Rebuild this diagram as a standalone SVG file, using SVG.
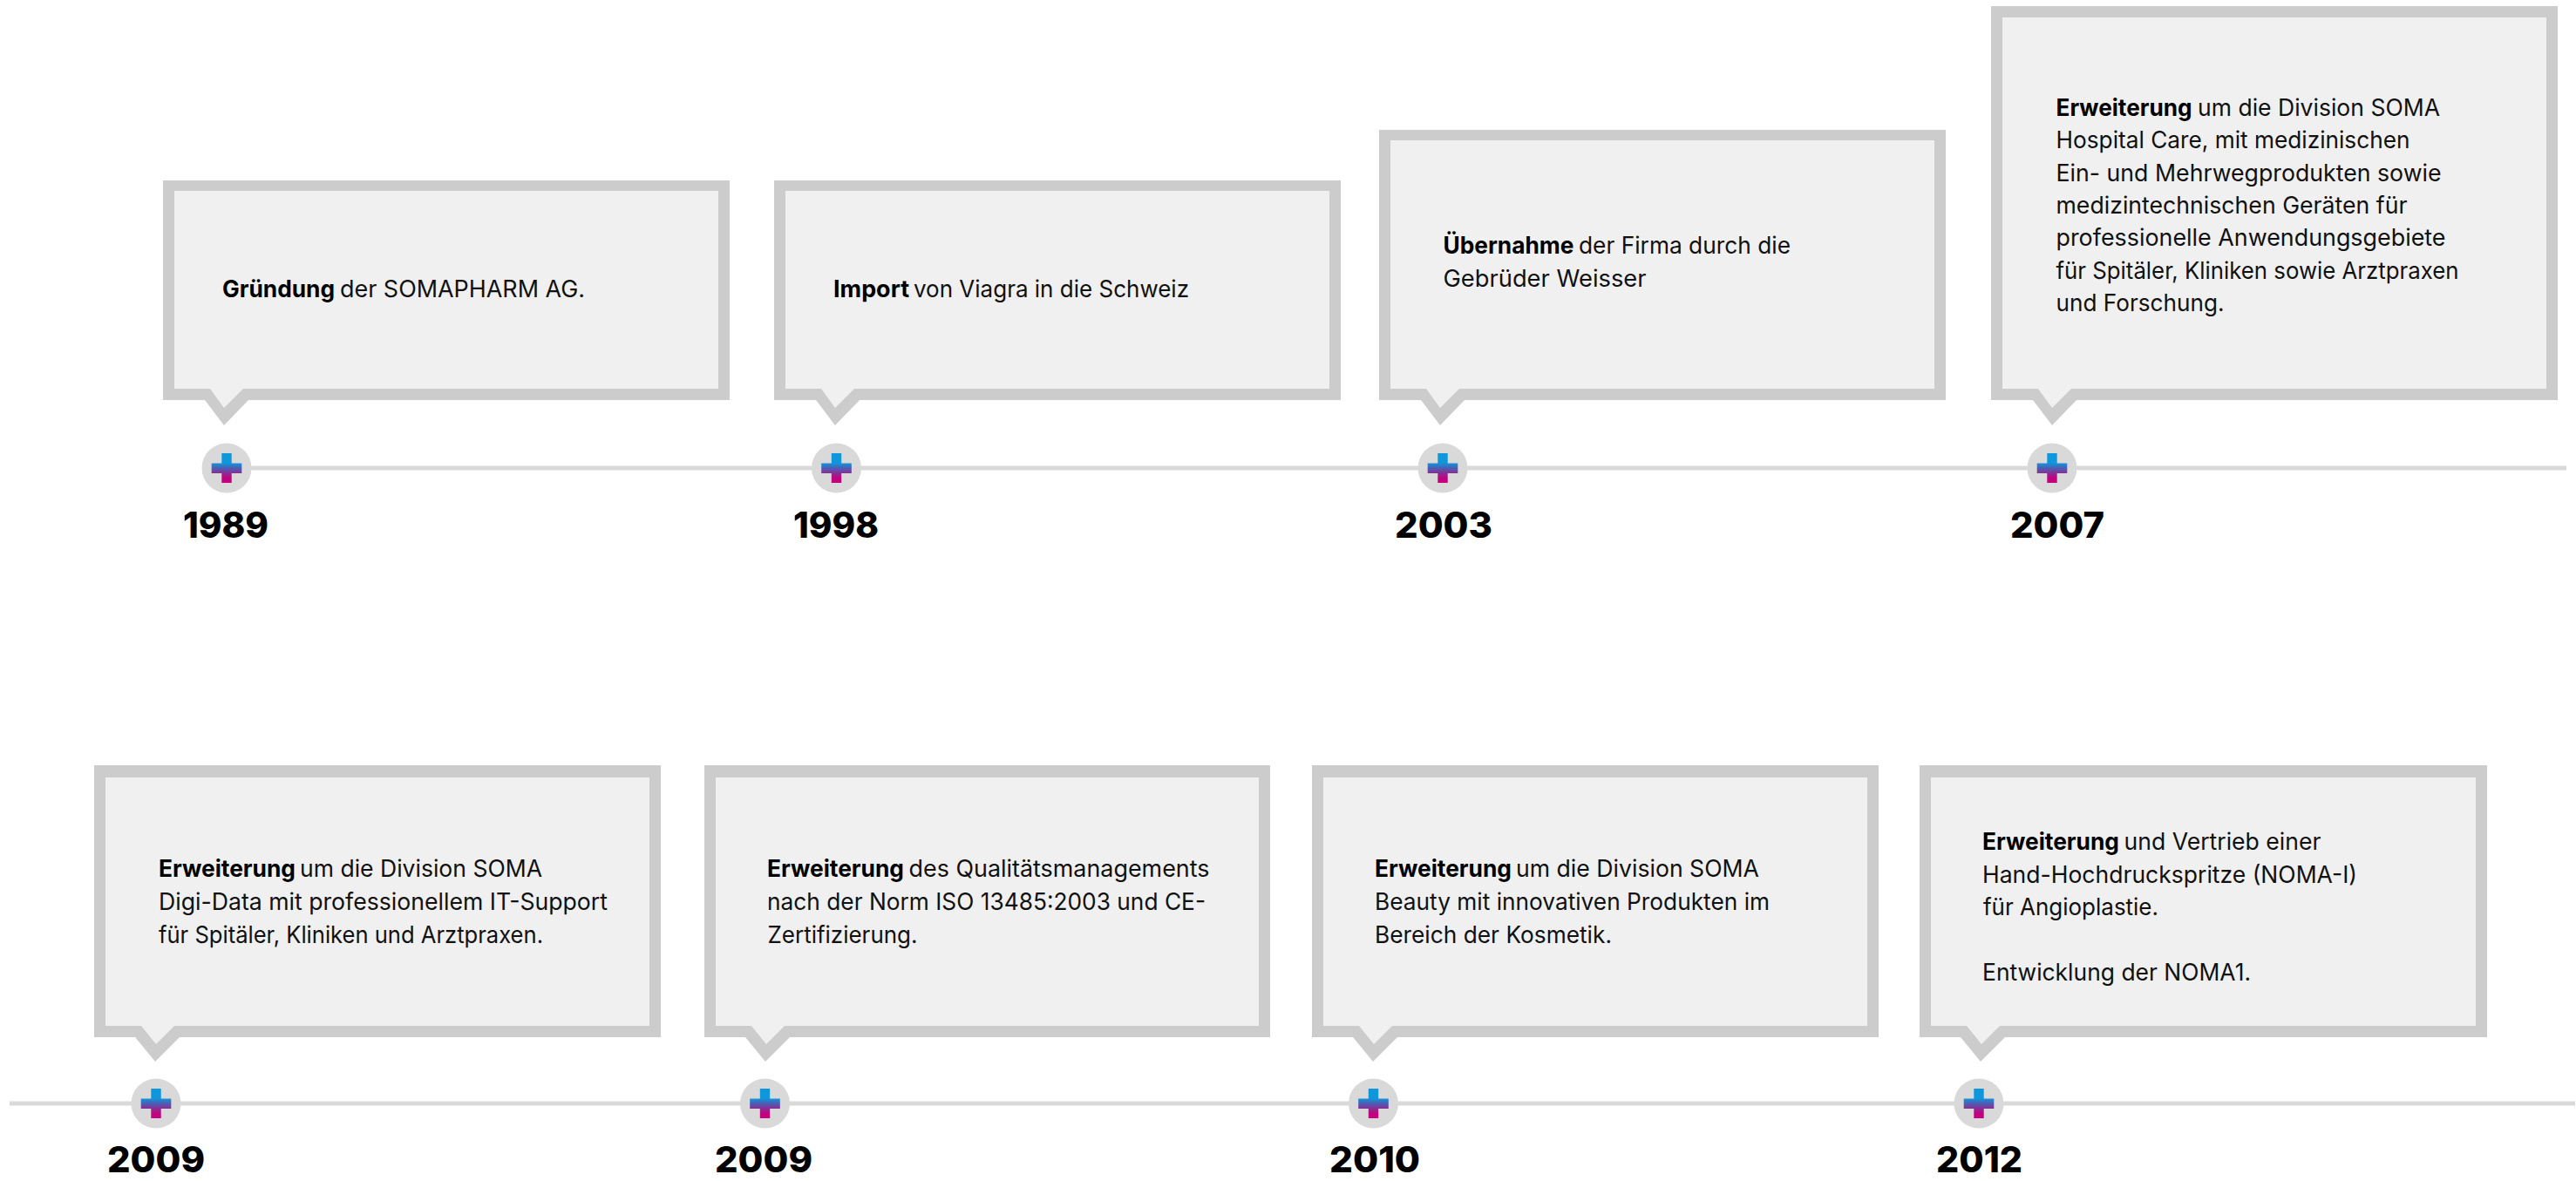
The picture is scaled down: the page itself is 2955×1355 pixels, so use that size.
<svg xmlns="http://www.w3.org/2000/svg" width="2955" height="1355" viewBox="0 0 2955 1355">
<style>
.o{fill:#ccc}.i{fill:#f0f0f0}
.t{font-family:Inter,"Liberation Sans",sans-serif;font-size:27px;fill:#111;transform:translateX(1px)}
.t tspan.b{font-weight:700;fill:#000}
.y{font-family:Inter,"Liberation Sans",sans-serif;font-size:41px;font-weight:800;fill:#000}
.l{stroke:#d9d9d9;stroke-width:5;fill:none}
</style>
<defs>
<linearGradient id="g" x1="0" y1="0" x2="0" y2="1"><stop offset="0.33" stop-color="#0f97dc"/><stop offset="0.5" stop-color="#4a5fb5"/><stop offset="0.68" stop-color="#8c2b92"/><stop offset="0.85" stop-color="#c4007f"/></linearGradient>
<g id="m"><circle r="28.5" fill="#d9d9d9"/><path d="M-5.7,-17H5.7V-5.5H17.3V6H5.7V17H-5.7V6H-17.3V-5.5H-5.7Z" fill="url(#g)"/></g>
</defs>
<rect width="2955" height="1355" fill="#fff"/>
<g id="connectors">
<line class="l" x1="260" y1="537" x2="2944" y2="537"/>
<line class="l" x1="11" y1="1266" x2="2954" y2="1266"/>
</g>
<g id="n1989"><polygon class="o" points="187,207 837,207 837,459 285,459 257,488 235,459 187,459"/><polygon class="i" points="200,219 824,219 824,446 279,446 257,468 241,446 200,446"/><use href="#m" x="260" y="537"/>
<text class="t" y="340.5"><tspan class="b" x="254" textLength="129" lengthAdjust="spacingAndGlyphs">Gründung</tspan> <tspan x="389" textLength="281" lengthAdjust="spacingAndGlyphs">der SOMAPHARM AG.</tspan></text>
<text class="y" x="210" y="617" textLength="98" lengthAdjust="spacingAndGlyphs">1989</text></g>
<g id="n1998"><polygon class="o" points="888,207 1538,207 1538,459 986,459 958,488 936,459 888,459"/><polygon class="i" points="901,219 1525,219 1525,446 980,446 958,468 942,446 901,446"/><use href="#m" x="959.5" y="537"/>
<text class="t" y="340.5"><tspan class="b" x="955" textLength="87" lengthAdjust="spacingAndGlyphs">Import</tspan> <tspan x="1047" textLength="316" lengthAdjust="spacingAndGlyphs">von Viagra in die Schweiz</tspan></text>
<text class="y" x="910" y="617" textLength="98" lengthAdjust="spacingAndGlyphs">1998</text></g>
<g id="n2003"><polygon class="o" points="1582,149 2232,149 2232,459 1680,459 1652,488 1630,459 1582,459"/><polygon class="i" points="1595,161 2219,161 2219,446 1674,446 1652,468 1636,446 1595,446"/><use href="#m" x="1655" y="537"/>
<text class="t" y="291"><tspan class="b" x="1654.5" textLength="150" lengthAdjust="spacingAndGlyphs">Übernahme</tspan> <tspan x="1810" textLength="243" lengthAdjust="spacingAndGlyphs">der Firma durch die</tspan></text>
<text class="t" x="1654.5" y="328.5" textLength="233" lengthAdjust="spacingAndGlyphs">Gebrüder Weisser</text>
<text class="y" x="1600" y="617" textLength="112" lengthAdjust="spacingAndGlyphs">2003</text></g>
<g id="n2007"><polygon class="o" points="2284,7 2934,7 2934,459 2382,459 2354,488 2332,459 2284,459"/><polygon class="i" points="2297,20 2921,20 2921,446 2376,446 2354,468 2338,446 2297,446"/><use href="#m" x="2354" y="537"/>
<text class="t" y="132.5"><tspan class="b" x="2357.5" textLength="156" lengthAdjust="spacingAndGlyphs">Erweiterung</tspan> <tspan x="2520" textLength="278" lengthAdjust="spacingAndGlyphs">um die Division SOMA</tspan></text>
<text class="t" x="2357.5" y="170" textLength="406" lengthAdjust="spacingAndGlyphs">Hospital Care, mit medizinischen</text>
<text class="t" x="2357.5" y="207.5" textLength="442" lengthAdjust="spacingAndGlyphs">Ein- und Mehrwegprodukten sowie</text>
<text class="t" x="2357.5" y="245" textLength="403" lengthAdjust="spacingAndGlyphs">medizintechnischen Geräten für</text>
<text class="t" x="2357.5" y="282" textLength="447" lengthAdjust="spacingAndGlyphs">professionelle Anwendungsgebiete</text>
<text class="t" x="2357.5" y="319.5" textLength="462" lengthAdjust="spacingAndGlyphs">für Spitäler, Kliniken sowie Arztpraxen</text>
<text class="t" x="2357.5" y="357" textLength="193" lengthAdjust="spacingAndGlyphs">und Forschung.</text>
<text class="y" x="2306" y="617" textLength="108" lengthAdjust="spacingAndGlyphs">2007</text></g>
<g id="n2009a"><polygon class="o" points="108,878 758,878 758,1190 206,1190 178,1218 155,1190 108,1190"/><polygon class="i" points="121,892 745,892 745,1177 200,1177 179,1198 162,1177 121,1177"/><use href="#m" x="179" y="1266"/>
<text class="t" y="1006"><tspan class="b" x="181" textLength="157" lengthAdjust="spacingAndGlyphs">Erweiterung</tspan> <tspan x="343" textLength="278" lengthAdjust="spacingAndGlyphs">um die Division SOMA</tspan></text>
<text class="t" x="181" y="1044" textLength="515" lengthAdjust="spacingAndGlyphs">Digi-Data mit professionellem IT-Support</text>
<text class="t" x="181" y="1081.5" textLength="441" lengthAdjust="spacingAndGlyphs">für Spitäler, Kliniken und Arztpraxen.</text>
<text class="y" x="123" y="1345" textLength="112" lengthAdjust="spacingAndGlyphs">2009</text></g>
<g id="n2009b"><polygon class="o" points="808,878 1457,878 1457,1190 906,1190 878,1218 855,1190 808,1190"/><polygon class="i" points="821,892 1444,892 1444,1177 900,1177 879,1198 862,1177 821,1177"/><use href="#m" x="877.5" y="1266"/>
<text class="t" y="1006"><tspan class="b" x="879" textLength="157" lengthAdjust="spacingAndGlyphs">Erweiterung</tspan> <tspan x="1041.5" textLength="345" lengthAdjust="spacingAndGlyphs">des Qualitätsmanagements</tspan></text>
<text class="t" x="879" y="1044" textLength="503" lengthAdjust="spacingAndGlyphs">nach der Norm ISO 13485:2003 und CE-</text>
<text class="t" x="879.5" y="1081.5" textLength="172" lengthAdjust="spacingAndGlyphs">Zertifizierung.</text>
<text class="y" x="820" y="1345" textLength="112" lengthAdjust="spacingAndGlyphs">2009</text></g>
<g id="n2010"><polygon class="o" points="1505,878 2155,878 2155,1190 1603,1190 1575,1218 1552,1190 1505,1190"/><polygon class="i" points="1518,892 2142,892 2142,1177 1597,1177 1576,1198 1559,1177 1518,1177"/><use href="#m" x="1575.5" y="1266"/>
<text class="t" y="1006"><tspan class="b" x="1576" textLength="157" lengthAdjust="spacingAndGlyphs">Erweiterung</tspan> <tspan x="1738" textLength="279" lengthAdjust="spacingAndGlyphs">um die Division SOMA</tspan></text>
<text class="t" x="1576" y="1044" textLength="453" lengthAdjust="spacingAndGlyphs">Beauty mit innovativen Produkten im</text>
<text class="t" x="1576" y="1081.5" textLength="272" lengthAdjust="spacingAndGlyphs">Bereich der Kosmetik.</text>
<text class="y" x="1525" y="1345" textLength="104" lengthAdjust="spacingAndGlyphs">2010</text></g>
<g id="n2012"><polygon class="o" points="2202,878 2853,878 2853,1190 2300,1190 2272,1218 2249,1190 2202,1190"/><polygon class="i" points="2215,892 2840,892 2840,1177 2294,1177 2273,1198 2256,1177 2215,1177"/><use href="#m" x="2270" y="1266"/>
<text class="t" y="975"><tspan class="b" x="2273" textLength="157" lengthAdjust="spacingAndGlyphs">Erweiterung</tspan> <tspan x="2435.5" textLength="226" lengthAdjust="spacingAndGlyphs">und Vertrieb einer</tspan></text>
<text class="t" x="2273" y="1012.5" textLength="430" lengthAdjust="spacingAndGlyphs">Hand-Hochdruckspritze (NOMA-I)</text>
<text class="t" x="2274" y="1050" textLength="201" lengthAdjust="spacingAndGlyphs">für Angioplastie.</text>
<text class="t" x="2273" y="1124.5" textLength="308" lengthAdjust="spacingAndGlyphs">Entwicklung der NOMA1.</text>
<text class="y" x="2221" y="1345" textLength="99" lengthAdjust="spacingAndGlyphs">2012</text></g>
</svg>
